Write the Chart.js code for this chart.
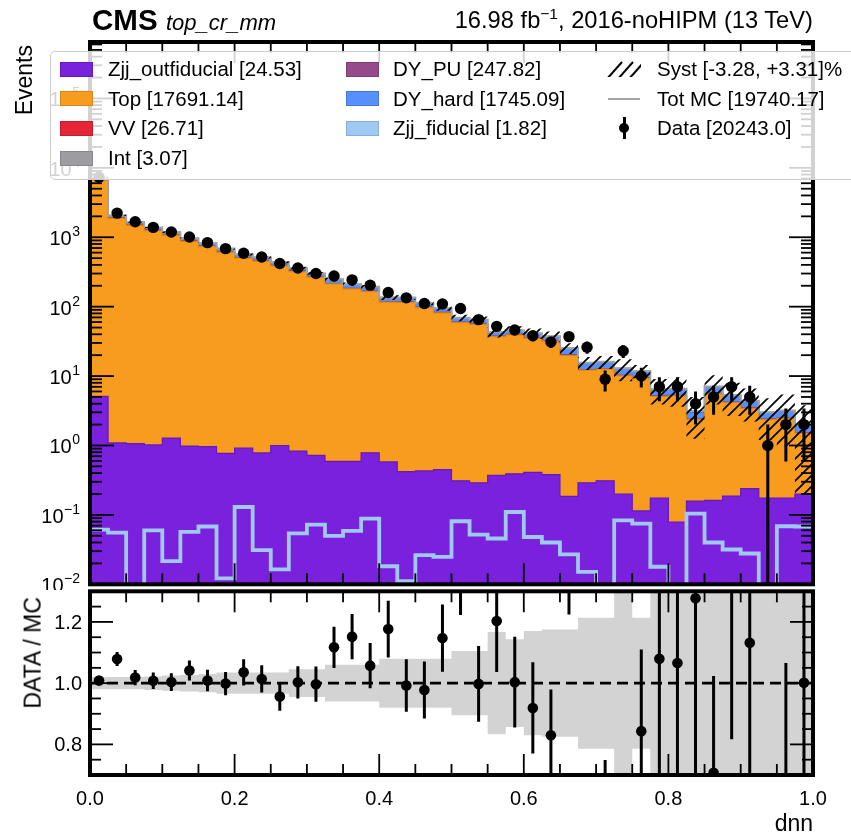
<!DOCTYPE html>
<html>
<head>
<meta charset="utf-8">
<title>dnn - top_cr_mm</title>
<script src="https://cdn.jsdelivr.net/npm/chart.js@4.4.1/dist/chart.umd.min.js"></script>
<style>
  html, body { margin:0; padding:0; background:#fff; }
  #wrap { position:relative; width:851px; height:838px; overflow:hidden; font-family:"Liberation Sans", Arial, Helvetica, sans-serif; color:#000; }
  canvas { position:absolute; left:0; }
  #cMain { top:0; }
  #cRatio { top:586px; }
  .t { position:absolute; white-space:nowrap; line-height:1; }
  .legbox { position:absolute; left:50px; top:51px; width:830px; height:129px; background:rgba(255,255,255,0.82); border:1.5px solid #cccccc; border-radius:5px; box-sizing:border-box; }
  .sw { position:absolute; width:33px; height:15px; box-sizing:border-box; border:1.5px solid; }
  .lt { position:absolute; font-size:20.5px; height:24px; line-height:24px; white-space:nowrap; }
  .rot { position:absolute; transform-origin:right top; transform:rotate(-90deg); white-space:nowrap; line-height:1; }
</style>
</head>
<body>
<div id="wrap">
  <canvas id="cMain" width="851" height="590"></canvas>
  <canvas id="cRatio" width="851" height="252"></canvas>
  <div class="t" style="left:92px; top:5px; font-size:29.5px; font-weight:bold;">CMS</div>
  <div class="t" style="left:166px; top:11.5px; font-size:22px; font-style:italic;">top_cr_mm</div>
  <div class="t" style="right:38px; top:9px; font-size:23.7px;">16.98 fb<sup style="font-size:15.5px; vertical-align:9px; line-height:0;">&minus;1</sup>, 2016-noHIPM (13 TeV)</div>
  <div class="rot" style="right:838px; top:45px; font-size:23px;">Events</div>
  <div class="rot" style="right:829px; top:597px; font-size:23px;">DATA / MC</div>
  <div class="t" style="right:38px; top:812px; font-size:23px;">dnn</div>
  <div id="legend"></div>
</div>
<script>
// ---------------- data ----------------
const binEdges = [0.000, 0.025, 0.050, 0.075, 0.100, 0.125, 0.150, 0.175, 0.200, 0.225,
                  0.250, 0.275, 0.300, 0.325, 0.350, 0.375, 0.400, 0.425, 0.450, 0.475,
                  0.500, 0.525, 0.550, 0.575, 0.600, 0.625, 0.650, 0.675, 0.700, 0.725,
                  0.750, 0.775, 0.800, 0.825, 0.850, 0.875, 0.900, 0.925, 0.950, 0.975, 1.000];

const dataCounts = [7330, 2228, 1675, 1387, 1188, 1007, 836, 686, 587, 520,
                    418, 361, 300, 277, 243, 204, 160, 134, 111, 109,
                    94, 65, 52, 46, 38, 31, 37, 26, 9, 23,
                    10, 7, 7, 4, 5, 7, 5, 1, 2, 2];

const zjjOutfiducial = [5.1, 1.09, 1.06, 1.02, 1.28, 0.98, 0.96, 0.77, 0.92, 0.78,
                        1.0, 0.83, 0.72, 0.59, 0.59, 0.785, 0.58, 0.42, 0.43, 0.45,
                        0.31, 0.29, 0.37, 0.39, 0.41, 0.38, 0.185, 0.29, 0.31, 0.20,
                        0.114, 0.175, 0.079, 0.158, 0.162, 0.187, 0.239, 0.175, 0.175, 0.20];

const topBkg = [6580.7, 1869.5, 1489.2, 1245.4, 1071.3, 874.9, 733.4, 607.8, 501.3, 453.6,
                386.1, 318.1, 265.9, 211.7, 179.9, 164.3, 115.8, 115.1, 96.7, 80.8,
                58.6, 55.4, 36.6, 38.7, 34.9, 31.5, 19.6, 11.9, 12.3, 9.9,
                9.1, 4.9, 5.1, 2.2, 5.37, 3.96, 3.2, 2.19, 2.28, 1.3];

const vvBkg = [9.8, 2.8, 2.2, 1.9, 1.6, 1.3, 1.1, 0.93, 0.77, 0.69,
               0.59, 0.49, 0.41, 0.33, 0.28, 0.26, 0.18, 0.18, 0.15, 0.13,
               0.09, 0.09, 0.06, 0.06, 0.06, 0.05, 0.03, 0.02, 0.02, 0.02,
               0.02, 0.01, 0.01, 0.0, 0.01, 0.01, 0.01, 0.0, 0.0, 0.0];

const intBkg = [1.1, 0.32, 0.26, 0.21, 0.18, 0.15, 0.13, 0.11, 0.09, 0.08,
                0.07, 0.06, 0.05, 0.04, 0.03, 0.03, 0.02, 0.02, 0.02, 0.02,
                0.01, 0.01, 0.01, 0.01, 0.01, 0.01, 0.0, 0.0, 0.0, 0.0,
                0.0, 0.0, 0.0, 0.0, 0.0, 0.0, 0.0, 0.0, 0.0, 0.0];

const dyPU = [91.6, 26.0, 20.7, 17.3, 14.9, 12.2, 10.4, 8.7, 7.1, 6.5,
              5.5, 4.5, 3.8, 3.1, 2.7, 2.4, 1.7, 1.7, 1.4, 1.2,
              0.87, 0.82, 0.54, 0.58, 0.52, 0.47, 0.32, 0.2, 0.2, 0.16,
              0.15, 0.08, 0.08, 0.04, 0.09, 0.07, 0.06, 0.04, 0.04, 0.03];

const dyHard = [581.6, 165.2, 131.6, 110.1, 94.7, 77.4, 82.9, 68.7, 56.7, 51.3,
                43.7, 36.0, 30.1, 32.2, 27.4, 25.1, 17.7, 17.6, 14.8, 12.4,
                9.0, 8.5, 5.6, 6.0, 5.4, 4.9, 5.1, 3.1, 3.2, 2.6,
                2.4, 1.3, 1.3, 0.63, 1.4, 1.07, 0.88, 0.6, 0.64, 0.4];

const zjjFiducial = [0.0615, 0.0557, 0.0, 0.060, 0.0216, 0.057, 0.068, 0.0122, 0.130, 0.031,
                     0.0164, 0.054, 0.0726, 0.050, 0.059, 0.0885, 0.0182, 0.0111, 0.0263, 0.0249,
                     0.081, 0.052, 0.0457, 0.110, 0.048, 0.040, 0.0269, 0.0151, 0.0, 0.0836,
                     0.075, 0.0179, 0.0, 0.104, 0.040, 0.0317, 0.0278, 0.0, 0.0686, 0.068];

// relative MC uncertainty per bin (grey band in ratio, hatched band in main panel)
const mcRelUnc = [0.02, 0.02, 0.02, 0.022, 0.025, 0.027, 0.03, 0.035, 0.035, 0.035,
                  0.035, 0.045, 0.045, 0.06, 0.06, 0.06, 0.08, 0.08, 0.08, 0.08,
                  0.105, 0.105, 0.167, 0.143, 0.17, 0.175, 0.175, 0.214, 0.214, 0.35,
                  0.214, 0.4, 0.45, 0.6, 0.45, 0.5, 0.5, 0.6, 0.7, 0.9];

const legendLabels = {
  zjjOut: 'Zjj_outfiducial [24.53]', top: 'Top [17691.14]', vv: 'VV [26.71]', int: 'Int [3.07]',
  dyPU: 'DY_PU [247.82]', dyHard: 'DY_hard [1745.09]', zjjFid: 'Zjj_fiducial [1.82]',
  syst: 'Syst [-3.28, +3.31]%', tot: 'Tot MC [19740.17]', data: 'Data [20243.0]'
};

const xTicksMajor = [0.0, 0.2, 0.4, 0.6, 0.8, 1.0];
const xTickLabels = ['0.0', '0.2', '0.4', '0.6', '0.8', '1.0'];
const xTicksMinor = [0.05, 0.1, 0.15, 0.25, 0.3, 0.35, 0.45, 0.5, 0.55, 0.65, 0.7, 0.75, 0.85, 0.9, 0.95];
const logDecades = [-2, -1, 0, 1, 2, 3, 4, 5];
const ratioTicksMajor = [0.8, 1.0, 1.2];
const ratioTickLabels = ['0.8', '1.0', '1.2'];
const ratioTicksMinor = [0.75, 0.85, 0.9, 0.95, 1.05, 1.1, 1.15, 1.25];

// ---------------- styling ----------------
const FONT = '"Liberation Sans", Arial, Helvetica, sans-serif';
const col = {
  zjjOut: ['#7a21dd', '#6419b8'], top: ['#f89c20', '#d98616'], vv: ['#e42536', '#c01c2c'],
  int: ['#9c9ca1', '#85858a'], dyPU: ['#964a8b', '#7e3d74'], dyHard: ['#5790fc', '#4676d6'],
  zjjFid: ['#9fc8f2', '#86aed8']
};
const N = dataCounts.length;
const binCenters = dataCounts.map((_, i) => (binEdges[i] + binEdges[i + 1]) / 2);

function steps(vals, floor) {
  const pts = [];
  for (let i = 0; i < vals.length; i++) {
    const v = floor !== undefined ? Math.max(vals[i], floor) : vals[i];
    pts.push({x: binEdges[i], y: v}, {x: binEdges[i + 1], y: v});
  }
  return pts;
}

// stack (bottom to top)
const layers = [
  {key: 'zjjOut', vals: zjjOutfiducial},
  {key: 'top', vals: topBkg},
  {key: 'vv', vals: vvBkg},
  {key: 'int', vals: intBkg},
  {key: 'dyPU', vals: dyPU},
  {key: 'dyHard', vals: dyHard}
];
let cum = new Array(N).fill(0);
layers.forEach(L => { cum = cum.map((c, i) => c + L.vals[i]); L.cum = cum.slice(); });
const totMC = cum.map((c, i) => c + zjjFiducial[i]);
const systUp = totMC.map((t, i) => t * (1 + mcRelUnc[i]));
const systDn = totMC.map((t, i) => Math.max(t * (1 - mcRelUnc[i]), 1e-3));
const ratio = dataCounts.map((d, i) => d / totMC[i]);
const ratioErr = dataCounts.map((d, i) => Math.sqrt(d) / totMC[i]);
const bandUp = mcRelUnc.map(u => 1 + u);
const bandDn = mcRelUnc.map(u => 1 - u);

function hatchPattern(ctx) {
  const c = document.createElement('canvas');
  c.width = 11; c.height = 11;
  const g = c.getContext('2d');
  g.strokeStyle = '#000'; g.lineWidth = 1.7;
  g.beginPath();
  g.moveTo(0, 11); g.lineTo(11, 0);
  g.moveTo(-5.5, 5.5); g.lineTo(5.5, -5.5);
  g.moveTo(5.5, 16.5); g.lineTo(16.5, 5.5);
  g.stroke();
  return ctx.createPattern(c, 'repeat');
}

function tick(ctx, x1, y1, x2, y2) { ctx.beginPath(); ctx.moveTo(x1, y1); ctx.lineTo(x2, y2); ctx.stroke(); }
const MAJ = 21, MIN = 11;

const errorBars = {
  id: 'errorBars',
  afterDatasetsDraw(chart) {
    const {ctx, chartArea: a} = chart;
    const xs = chart.scales.x, ys = chart.scales.y;
    chart.data.datasets.forEach(ds => {
      if (!ds.errs) return;
      ctx.save();
      ctx.beginPath(); ctx.rect(a.left, a.top, a.right - a.left, a.bottom - a.top); ctx.clip();
      ctx.strokeStyle = '#000'; ctx.lineWidth = 3;
      ds.data.forEach((p, i) => {
        const e = ds.errs[i];
        const px = xs.getPixelForValue(p.x);
        const lo = p.y - e, hi = p.y + e;
        const pLo = (ds.logErr && lo <= 0) ? a.bottom + 5 : ys.getPixelForValue(lo);
        const pHi = ys.getPixelForValue(hi);
        tick(ctx, px, pLo, px, pHi);
      });
      ctx.restore();
    });
  }
};

const mainDecor = {
  id: 'mainDecor',
  afterDraw(chart) {
    const {ctx, chartArea: a} = chart;
    const xs = chart.scales.x, ys = chart.scales.y;
    ctx.save();
    ctx.strokeStyle = '#000'; ctx.lineWidth = 1.8;
    xTicksMinor.forEach(v => { const p = xs.getPixelForValue(v); tick(ctx, p, a.bottom, p, a.bottom - MIN); tick(ctx, p, a.top, p, a.top + MIN); });
    xTicksMajor.forEach(v => { const p = xs.getPixelForValue(v); tick(ctx, p, a.bottom, p, a.bottom - MAJ); tick(ctx, p, a.top, p, a.top + MAJ); });
    const yMax = ys.max;
    logDecades.forEach(k => {
      const base = Math.pow(10, k);
      const p = ys.getPixelForValue(base);
      tick(ctx, a.left, p, a.left + MAJ + 3, p); tick(ctx, a.right, p, a.right - MAJ - 3, p);
      for (let m = 2; m <= 9; m++) {
        const v = m * base; if (v >= yMax) break;
        const q = ys.getPixelForValue(v);
        tick(ctx, a.left, q, a.left + MIN + 1, q); tick(ctx, a.right, q, a.right - MIN - 1, q);
      }
      // label 10^k
      const ex = k < 0 ? '\u2212' + (-k) : String(k);
      ctx.fillStyle = '#000'; ctx.textAlign = 'right'; ctx.textBaseline = 'alphabetic';
      ctx.font = '14px ' + FONT;
      const ew = ctx.measureText(ex).width;
      ctx.fillText(ex, a.left - 10, p - 1);
      ctx.font = '20px ' + FONT;
      ctx.fillText('10', a.left - 10 - ew - 0.5, p + 8);
    });
    ctx.lineWidth = 4;
    ctx.strokeRect(a.left, a.top, a.right - a.left, a.bottom - a.top);
    ctx.restore();
  }
};

const ratioDecor = {
  id: 'ratioDecor',
  afterDraw(chart) {
    const {ctx, chartArea: a} = chart;
    const xs = chart.scales.x, ys = chart.scales.y;
    ctx.save();
    ctx.strokeStyle = '#000'; ctx.lineWidth = 1.8;
    xTicksMinor.forEach(v => { const p = xs.getPixelForValue(v); tick(ctx, p, a.bottom, p, a.bottom - MIN); tick(ctx, p, a.top, p, a.top + MIN); });
    xTicksMajor.forEach(v => { const p = xs.getPixelForValue(v); tick(ctx, p, a.bottom, p, a.bottom - MAJ); tick(ctx, p, a.top, p, a.top + MAJ); });
    ratioTicksMinor.forEach(v => { const p = ys.getPixelForValue(v); tick(ctx, a.left, p, a.left + MIN, p); tick(ctx, a.right, p, a.right - MIN, p); });
    ratioTicksMajor.forEach(v => { const p = ys.getPixelForValue(v); tick(ctx, a.left, p, a.left + MAJ + 2, p); tick(ctx, a.right, p, a.right - MAJ - 2, p); });
    ctx.fillStyle = '#000'; ctx.font = '20px ' + FONT; ctx.textBaseline = 'alphabetic';
    ctx.textAlign = 'right';
    ratioTicksMajor.forEach((v, i) => { const p = ys.getPixelForValue(v); ctx.fillText(ratioTickLabels[i], a.left - 8, p + 7); });
    ctx.textAlign = 'center';
    xTicksMajor.forEach((v, i) => { const p = xs.getPixelForValue(v); ctx.fillText(xTickLabels[i], p, a.bottom + 30); });
    ctx.lineWidth = 4;
    ctx.strokeRect(a.left, a.top, a.right - a.left, a.bottom - a.top);
    ctx.restore();
  }
};

Chart.defaults.font.family = FONT;

// ---------------- main panel ----------------
const mainCtx = document.getElementById('cMain').getContext('2d');
const mainSets = [
  {label: 'Data', data: dataCounts.map((d, i) => ({x: binCenters[i], y: d})), errs: dataCounts.map(d => Math.sqrt(d)), logErr: true,
   showLine: false, pointRadius: 5.7, pointHoverRadius: 5.7, pointBackgroundColor: '#000', pointBorderWidth: 0, order: 1},
  {label: 'Syst up', data: steps(systUp), fill: '+1', backgroundColor: hatchPattern(mainCtx), borderWidth: 0, borderColor: 'rgba(0,0,0,0)', pointRadius: 0, order: 3},
  {label: 'Syst down', data: steps(systDn), fill: false, borderWidth: 0, borderColor: 'rgba(0,0,0,0)', pointRadius: 0, order: 3},
  {label: 'Tot MC', data: steps(totMC), fill: false, borderColor: '#a3a3a3', borderWidth: 2, pointRadius: 0, order: 4},
  {label: 'Zjj_fiducial', data: steps(zjjFiducial, 1e-3), fill: false, borderColor: col.zjjFid[0], borderWidth: 3.8, pointRadius: 0, order: 5}
];
layers.forEach((L, k) => {
  mainSets.push({label: L.key, data: steps(L.cum), fill: 'start', backgroundColor: col[L.key][0], borderColor: col[L.key][1],
                 borderWidth: 1.2, pointRadius: 0, order: 6 + k});
});

new Chart(mainCtx, {
  type: 'line',
  data: {datasets: mainSets},
  options: {
    responsive: false, animation: false, devicePixelRatio: 1,
    layout: {padding: {left: 90, right: 38, top: 42, bottom: 5}},
    scales: {
      x: {type: 'linear', min: 0, max: 1, display: false},
      y: {type: 'logarithmic', min: 0.01, max: 6.5e5, display: false}
    },
    elements: {line: {tension: 0}},
    plugins: {legend: {display: false}, tooltip: {enabled: false}}
  },
  plugins: [errorBars, mainDecor]
});

// ---------------- ratio panel ----------------
const ratioCtx = document.getElementById('cRatio').getContext('2d');
new Chart(ratioCtx, {
  type: 'line',
  data: {datasets: [
    {label: 'Data/MC', data: ratio.map((r, i) => ({x: binCenters[i], y: r})), errs: ratioErr,
     showLine: false, pointRadius: 5.3, pointHoverRadius: 5.3, pointBackgroundColor: '#000', pointBorderWidth: 0, order: 1, clip: 0},
    {label: 'unity', data: [{x: 0, y: 1}, {x: 1, y: 1}], borderColor: '#000', borderWidth: 2.6, borderDash: [11, 6], pointRadius: 0, fill: false, order: 2},
    {label: 'band up', data: steps(bandUp), fill: '+1', backgroundColor: '#d3d3d3', borderWidth: 0, borderColor: 'rgba(0,0,0,0)', pointRadius: 0, order: 3},
    {label: 'band down', data: steps(bandDn), fill: false, borderWidth: 0, borderColor: 'rgba(0,0,0,0)', pointRadius: 0, order: 3}
  ]},
  options: {
    responsive: false, animation: false, devicePixelRatio: 1,
    layout: {padding: {left: 90, right: 38, top: 5, bottom: 63}},
    scales: {
      x: {type: 'linear', min: 0, max: 1, display: false},
      y: {type: 'linear', min: 0.7, max: 1.3, display: false}
    },
    elements: {line: {tension: 0}},
    plugins: {legend: {display: false}, tooltip: {enabled: false}}
  },
  plugins: [errorBars, ratioDecor]
});

// ---------------- legend (HTML text) ----------------
(function buildLegend() {
  const L = document.getElementById('legend');
  const rows = [69, 98.7, 128.4, 158.1];
  let html = '<div class="legbox"></div>';
  const sw = (x, r, key) => `<div class="sw" style="left:${x}px;top:${rows[r] - 7.5}px;background:${col[key][0]};border-color:${col[key][1]};"></div>`;
  const tx = (x, r, s) => `<div class="lt" style="left:${x}px;top:${rows[r] - 12}px;">${s}</div>`;
  [['zjjOut', 0], ['top', 1], ['vv', 2], ['int', 3]].forEach(([k, r]) => { html += sw(60, r, k) + tx(108, r, legendLabels[k]); });
  [['dyPU', 0], ['dyHard', 1], ['zjjFid', 2]].forEach(([k, r]) => { html += sw(346, r, k) + tx(393, r, legendLabels[k]); });
  html += `<svg width="36" height="22" style="position:absolute;left:606px;top:${rows[0] - 11}px">
    <defs><clipPath id="hc"><rect x="1" y="3" width="34" height="16"/></clipPath></defs>
    <g clip-path="url(#hc)" stroke="#000" stroke-width="2">
      <line x1="0" y1="22" x2="16" y2="4"/><line x1="11" y1="22" x2="27" y2="4"/><line x1="22" y1="22" x2="38" y2="4"/>
    </g></svg>`;
  html += tx(657, 0, legendLabels.syst);
  html += `<div style="position:absolute;left:608px;top:${rows[1] - 1}px;width:32px;height:2px;background:#a3a3a3;"></div>`;
  html += tx(657, 1, legendLabels.tot);
  html += `<div style="position:absolute;left:622.5px;top:${rows[2] - 11}px;width:3px;height:22px;background:#000;"></div>`;
  html += `<div style="position:absolute;left:619px;top:${rows[2] - 5}px;width:10px;height:10px;border-radius:50%;background:#000;"></div>`;
  html += tx(657, 2, legendLabels.data);
  L.innerHTML = html;
})();
</script>
</body>
</html>
